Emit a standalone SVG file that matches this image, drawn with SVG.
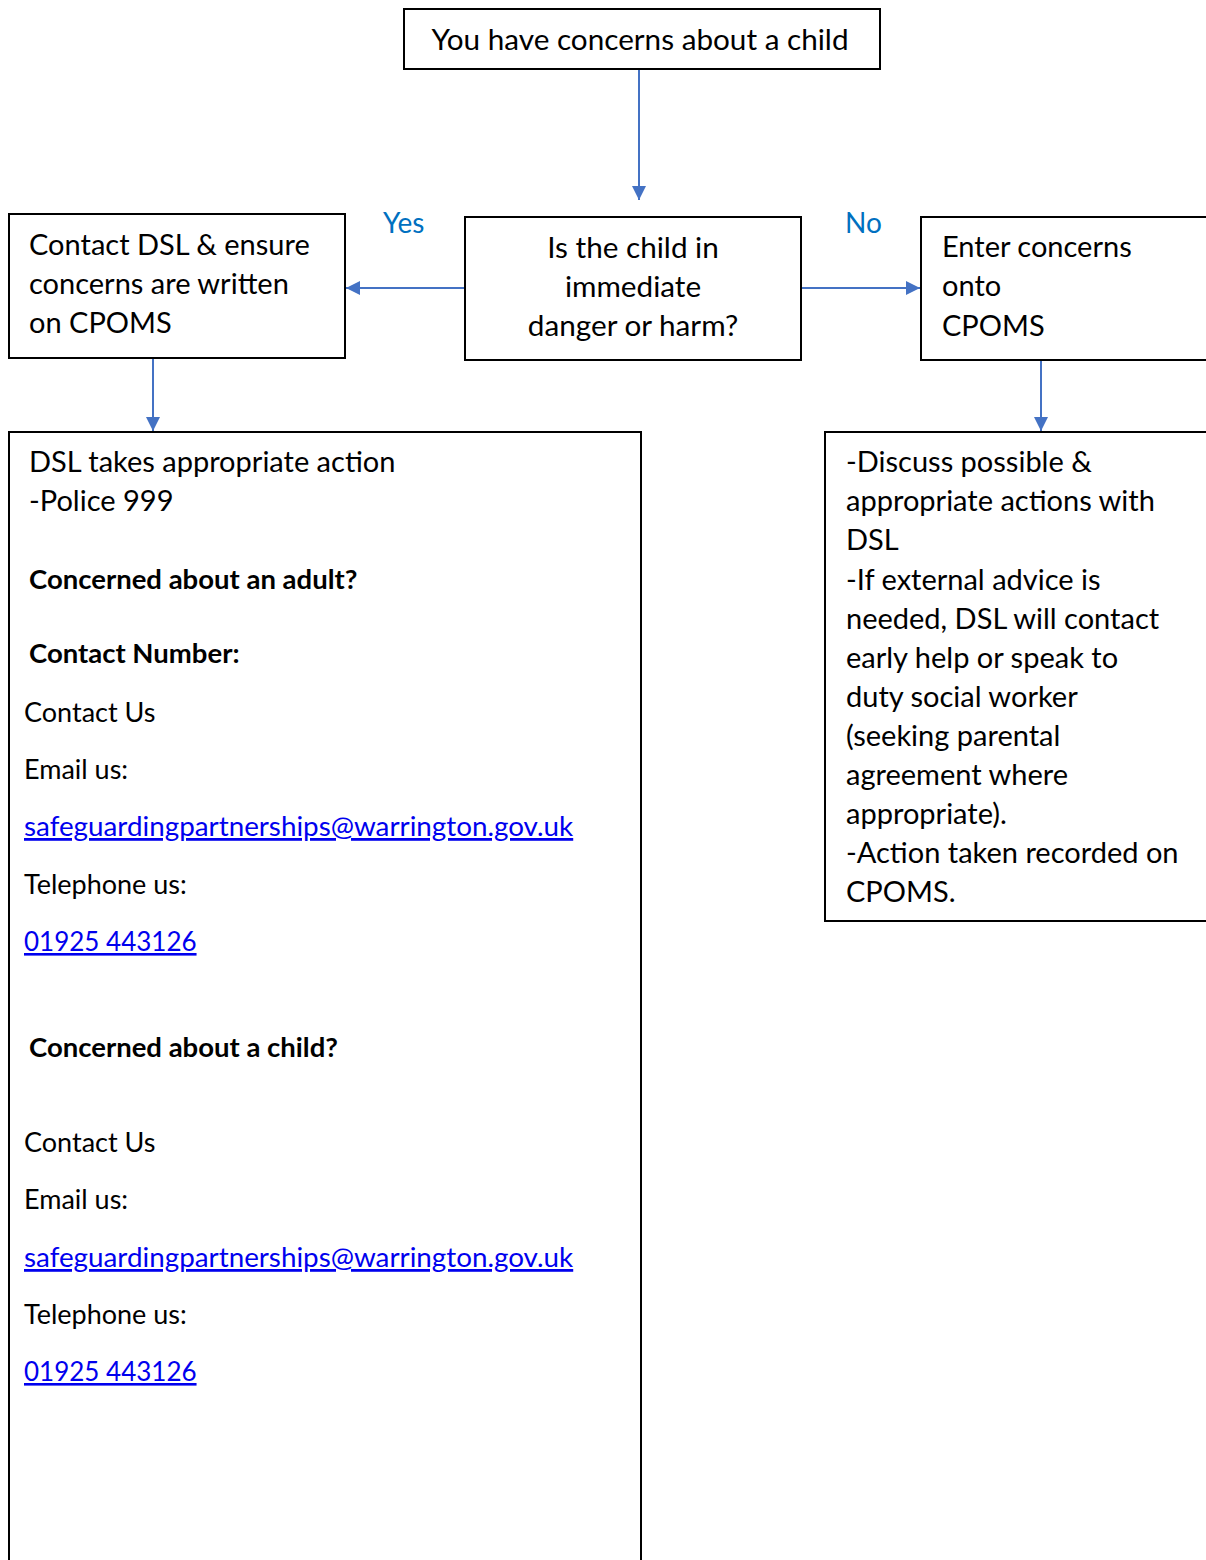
<svg xmlns="http://www.w3.org/2000/svg" width="1206" height="1560" viewBox="0 0 1206 1560">
<style>
text{font-family:Lato,"Liberation Sans",sans-serif;fill:#000;font-size:29px}
.box{fill:#fff;stroke:#000;stroke-width:2}
.con{stroke:#4472C4;stroke-width:2;fill:none}
.lbl{fill:#0070C0;font-size:28px}
.h{font-size:29.7px}
.b{font-weight:bold;font-size:27.5px}
.s{font-size:27px}
.lnk{fill:#0000EE;font-size:27.8px;text-decoration:underline}
.num{font-size:26px}
</style>
<defs>
<marker id="ah" viewBox="0 0 10 10" refX="10" refY="5" markerWidth="14" markerHeight="14" markerUnits="userSpaceOnUse" orient="auto"><path d="M0,0L10,5L0,10z" fill="#4472C4"/></marker>
</defs>
<g id="connectors">
<line class="con" x1="639" y1="70" x2="639" y2="200" marker-end="url(#ah)"/>
<line class="con" x1="465" y1="288" x2="346" y2="288" marker-end="url(#ah)"/>
<line class="con" x1="801" y1="288" x2="920" y2="288" marker-end="url(#ah)"/>
<line class="con" x1="153" y1="359" x2="153" y2="431" marker-end="url(#ah)"/>
<line class="con" x1="1041" y1="361" x2="1041" y2="431" marker-end="url(#ah)"/>
<text class="lbl" x="383" y="233">Yes</text>
<text class="lbl" x="845" y="233">No</text>
</g>
<g id="start">
<rect class="box" x="404" y="9" width="476" height="60"/>
<text class="h" x="640" y="50" text-anchor="middle">You have concerns about a child</text>
</g>
<g id="decision">
<rect class="box" x="465" y="217" width="336" height="143"/>
<text class="h" x="633" y="258" text-anchor="middle">Is the child in</text>
<text class="h" x="633" y="297" text-anchor="middle">immediate</text>
<text class="h" x="633" y="336" text-anchor="middle">danger or harm?</text>
</g>
<g id="yes-box">
<rect class="box" x="9" y="214" width="336" height="144"/>
<text x="29" y="255">Contact DSL &amp; ensure</text>
<text x="29" y="294">concerns are written</text>
<text x="29" y="333">on CPOMS</text>
</g>
<g id="no-box">
<rect class="box" x="921" y="217" width="300" height="143"/>
<text x="942" y="257">Enter concerns</text>
<text x="942" y="296">onto</text>
<text x="942" y="336">CPOMS</text>
</g>
<g id="dsl-action">
<rect class="box" x="9" y="432" width="632" height="1140"/>
<text x="29" y="472">DSL takes appropriate action</text>
<text x="29" y="511">-Police 999</text>
<text class="b" x="29" y="589">Concerned about an adult?</text>
<text class="b" x="29" y="663">Contact Number:</text>
<text class="s" x="24" y="722">Contact Us</text>
<text class="s" x="24" y="779">Email us:</text>
<text class="lnk" x="24" y="836">safeguardingpartnerships@warrington.gov.uk</text>
<text class="s" x="24" y="894">Telephone us:</text>
<text class="lnk num" x="24" y="951">01925 443126</text>
<text class="b" x="29" y="1057">Concerned about a child?</text>
<text class="s" x="24" y="1152">Contact Us</text>
<text class="s" x="24" y="1209">Email us:</text>
<text class="lnk" x="24" y="1267">safeguardingpartnerships@warrington.gov.uk</text>
<text class="s" x="24" y="1324">Telephone us:</text>
<text class="lnk num" x="24" y="1381">01925 443126</text>
</g>
<g id="discuss">
<rect class="box" x="825" y="432" width="400" height="489"/>
<text x="846" y="472">-Discuss possible &amp;</text>
<text x="846" y="511">appropriate actions with</text>
<text x="846" y="550">DSL</text>
<text x="846" y="590">-If external advice is</text>
<text x="846" y="629">needed, DSL will contact</text>
<text x="846" y="668">early help or speak to</text>
<text x="846" y="707">duty social worker</text>
<text x="846" y="746">(seeking parental</text>
<text x="846" y="785">agreement where</text>
<text x="846" y="824">appropriate).</text>
<text x="846" y="863">-Action taken recorded on</text>
<text x="846" y="902">CPOMS.</text>
</g>
</svg>
